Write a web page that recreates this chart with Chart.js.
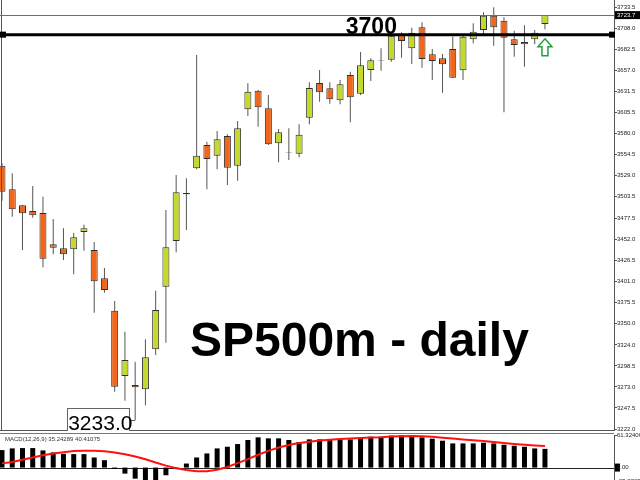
<!DOCTYPE html>
<html><head><meta charset="utf-8">
<script src="https://cdn.jsdelivr.net/npm/chart.js@4.4.0/dist/chart.umd.min.js"></script>
<style>
html,body{margin:0;padding:0;background:#fff;width:640px;height:480px;overflow:hidden;}
canvas{position:absolute;left:0;}
#main{top:0;}
#macd{top:431px;}
</style></head><body>
<canvas id="main" width="640" height="431"></canvas>
<canvas id="macd" width="640" height="50"></canvas>
<script>
// ---- data ----
const opens  = [3541.1,3512.5,3493.1,3486.2,3483.8,3445.9,3441.0,3439.8,3460.8,3439.0,3404.7,3365.4,3286.2,3275.3,3270.1,3318.6,3394.5,3449.9,3506.5,3538.0,3566.2,3553.3,3577.1,3541.1,3609.5,3632.0,3610.7,3568.3,3556.5,3555.7,3599.3,3641.4,3635.0,3620.4,3651.1,3628.4,3657.1,3668.0,3669.6,3699.9,3683.4,3708.9,3676.2,3671.3,3682.6,3656.8,3694.3,3705.6,3723.0,3716.9,3694.3,3688.3,3694.3,3712.9];
const highs  = [3544.4,3531.9,3493.5,3516.5,3503.6,3476.5,3465.3,3459.6,3469.6,3448.6,3417.1,3377.1,3339.9,3303.6,3330.7,3389.6,3487.4,3529.9,3525.9,3675.3,3570.2,3583.2,3579.2,3595.3,3641.0,3632.9,3626.8,3585.6,3586.5,3591.3,3642.2,3657.1,3642.2,3645.0,3655.1,3679.0,3671.3,3683.4,3699.6,3702.8,3708.4,3715.0,3682.6,3676.5,3697.5,3698.5,3713.7,3727.1,3733.1,3721.0,3704.8,3711.3,3705.6,3723.7];
const lows   = [3498.7,3479.3,3439.0,3478.1,3418.0,3433.7,3426.8,3409.5,3438.1,3363.0,3387.2,3267.2,3256.3,3233.0,3250.7,3311.7,3326.6,3436.2,3463.2,3536.8,3512.5,3536.8,3517.7,3523.0,3601.4,3588.4,3566.2,3545.3,3548.0,3551.3,3591.3,3618.7,3616.3,3615.6,3593.7,3626.8,3643.8,3656.3,3667.2,3672.0,3664.4,3659.9,3645.0,3629.6,3647.4,3645.0,3689.5,3700.4,3686.6,3605.9,3673.3,3661.1,3688.3,3706.5];
const closes = [3509.6,3488.3,3483.4,3481.0,3428.4,3441.7,3433.7,3454.3,3465.3,3401.0,3390.5,3273.3,3305.6,3272.5,3308.9,3366.2,3442.2,3508.9,3508.0,3553.3,3549.3,3573.1,3538.7,3586.5,3630.8,3611.9,3567.1,3581.6,3557.1,3578.7,3635.3,3630.1,3621.6,3639.8,3624.0,3662.8,3668.9,3668.6,3698.7,3692.3,3702.0,3670.5,3668.0,3664.0,3647.8,3697.5,3703.6,3723.0,3708.9,3696.3,3687.4,3691.1,3702.3,3723.7];
const priceTicks = [3733.5,3708.0,3682.5,3657.0,3631.5,3605.5,3580.0,3554.5,3529.0,3503.5,3477.5,3452.0,3426.5,3401.0,3375.5,3350.0,3324.0,3298.5,3273.0,3247.5,3222.0];
const macdHist = [32.9,36.1,36.7,36.7,32.3,28.5,25.9,25.3,25.3,19.0,13.9,-2.5,-11.4,-20.9,-25.0,-25.29,-14.5,-2.5,7.6,19.0,26.6,36.1,39.2,44.3,51.9,56.9,55.0,55.0,51.9,48.1,53.1,53.1,51.9,53.1,53.1,56.9,58.2,58.2,60.1,60.7,61.32,56.9,54.4,50.6,45.5,45.5,45.5,46.8,45.5,43.0,41.1,39.2,36.1,35.24];
const macdSignal = [7.9,10.5,14.7,18.9,23.1,26.3,28.9,31.0,31.5,31.5,30.5,28.4,25.2,21.0,15.8,9.5,3.7,-1.1,-4.7,-6.8,-6.8,-4.2,1.1,8.4,15.8,24.2,31.5,37.8,42.5,46.2,48.8,50.9,52.5,53.6,54.6,55.7,56.7,57.2,58.3,58.8,59.3,58.8,57.8,56.2,54.6,53.0,51.5,49.9,48.0,46.3,44.6,43.0,41.6,40.41];
const macdTicks = [61.32406, -25.2865];
const macdTickLabels = ['61.32406', '-25.2865'];
const levelPrice = 3700;
const levelText = '3700';
const lastPrice = 3723.7;
const lowIndex = 13;
const lowPrice = 3233.0;
const arrowIndex = 53;
const arrowPrice = 3695;
const titleText = 'SP500m - daily';
const macdTitle = 'MACD(12,26,9) 35.24289 40.41075';

// ---- styles ----
const GREEN = '#c4d82e', ORANGE = '#f2661c', EDGE = '#2e2e2e';
const FONT = 'Liberation Sans, Arial, sans-serif';
const X_MIN = -0.195, X_MAX = 59.74, AXIS_W = 26;

const idx = opens.map((_, i) => i);
const bodyData = idx.map(i => ({x: i, y: [opens[i], closes[i]]}));
const wickData = idx.map(i => ({x: i, y: [lows[i], highs[i]]}));
const bodyColors = idx.map(i => closes[i] >= opens[i] ? GREEN : ORANGE);

function xAxis() {
  return {type: 'linear', display: false, min: X_MIN, max: X_MAX, offset: false, bounds: 'data',
          grid: {offset: false}, ticks: {includeBounds: true}};
}
function yAxisCommon(extra) {
  return Object.assign({
    position: 'right', offset: false,
    afterFit: s => { s.width = AXIS_W; s.paddingTop = 0; s.paddingBottom = 0; },
    grid: {drawOnChartArea: false, drawTicks: true, tickLength: 3, color: '#555', lineWidth: 1},
    border: {display: true, color: '#555', width: 1},
  }, extra);
}

const mainPlugin = {
  id: 'mainDeco',
  afterDatasetsDraw(chart) {
    const {ctx, chartArea: a, scales: {x, y}} = chart;
    ctx.save();
    // frame lines
    ctx.strokeStyle = '#555'; ctx.lineWidth = 1;
    ctx.beginPath(); ctx.moveTo(1.5, a.top); ctx.lineTo(1.5, a.bottom); ctx.stroke();
    ctx.beginPath(); ctx.moveTo(a.left, a.bottom - 0.5); ctx.lineTo(a.right, a.bottom - 0.5); ctx.stroke();
    // current price line
    const py = Math.round(y.getPixelForValue(lastPrice)) + 0.5;
    ctx.strokeStyle = '#6464b0'; ctx.lineWidth = 1;
    ctx.beginPath(); ctx.moveTo(a.left, py); ctx.lineTo(a.right, py); ctx.stroke();
    // 3700 level line
    const ly = y.getPixelForValue(levelPrice);
    ctx.strokeStyle = '#000'; ctx.lineWidth = 3;
    ctx.beginPath(); ctx.moveTo(a.left, ly); ctx.lineTo(a.right, ly); ctx.stroke();
    ctx.fillStyle = '#000';
    ctx.fillRect(a.left, ly - 3, 6, 6);
    ctx.fillRect(a.right - 5, ly - 3, 6, 6);
    // level text
    ctx.font = 'bold 23px ' + FONT;
    ctx.textAlign = 'right'; ctx.textBaseline = 'alphabetic';
    ctx.fillText(levelText, x.getPixelForValue(38.55), ly - 1);
    // low label box
    const cx = x.getPixelForValue(lowIndex), lpy = y.getPixelForValue(lowPrice);
    ctx.fillStyle = '#fff'; ctx.strokeStyle = '#666'; ctx.lineWidth = 1;
    ctx.fillRect(cx - 68, lpy - 12, 62, 23);
    ctx.strokeRect(Math.round(cx - 68) + 0.5, Math.round(lpy - 12) + 0.5, 62, 23);
    ctx.beginPath(); ctx.moveTo(cx - 6, Math.round(lpy) + 0.5); ctx.lineTo(cx, Math.round(lpy) + 0.5); ctx.stroke();
    ctx.fillStyle = '#000';
    ctx.font = '21px ' + FONT; ctx.textAlign = 'left';
    ctx.fillText('3233.0', cx - 67, lpy + 10);
    // arrow
    const ax = x.getPixelForValue(arrowIndex), ay = y.getPixelForValue(arrowPrice);
    ctx.beginPath();
    ctx.moveTo(ax, ay);
    ctx.lineTo(ax + 7, ay + 8);
    ctx.lineTo(ax + 3, ay + 8);
    ctx.lineTo(ax + 3, ay + 17);
    ctx.lineTo(ax - 3, ay + 17);
    ctx.lineTo(ax - 3, ay + 8);
    ctx.lineTo(ax - 7, ay + 8);
    ctx.closePath();
    ctx.fillStyle = '#fff'; ctx.fill();
    ctx.strokeStyle = '#22a040'; ctx.lineWidth = 1.5; ctx.stroke();
    // title
    ctx.fillStyle = '#000';
    ctx.font = 'bold 48px ' + FONT; ctx.textAlign = 'left';
    ctx.fillText(titleText, 190, 356);
    ctx.restore();
  },
  afterDraw(chart) {
    const {ctx, chartArea: a, scales: {y}} = chart;
    const py = y.getPixelForValue(lastPrice);
    ctx.save();
    ctx.fillStyle = '#000';
    ctx.fillRect(a.right + 1, py - 4, 26, 8);
    ctx.fillStyle = '#fff';
    ctx.font = '6px ' + FONT; ctx.textAlign = 'left'; ctx.textBaseline = 'middle';
    ctx.fillText(lastPrice.toFixed(1), a.right + 3, py);
    ctx.restore();
  }
};

new Chart(document.getElementById('main'), {
  type: 'bar',
  data: {
    datasets: [
      {data: bodyData, backgroundColor: bodyColors, borderColor: EDGE, borderWidth: 1, borderSkipped: false,
       grouped: false, barThickness: 7, maxBarThickness: 7, inflateAmount: 0, order: 1},
      {data: wickData, backgroundColor: '#555', borderWidth: 0, grouped: false,
       barThickness: 1, maxBarThickness: 1, inflateAmount: 0, order: 2}
    ]
  },
  options: {
    responsive: false, animation: false, devicePixelRatio: 1,
    layout: {padding: 0},
    plugins: {legend: {display: false}, tooltip: {enabled: false}},
    scales: {
      x: xAxis(),
      y: yAxisCommon({
        min: 3219.6, max: 3742.0,
        afterBuildTicks: s => { s.ticks = priceTicks.map(v => ({value: v})); },
        ticks: {callback: v => Number(v).toFixed(1), font: {size: 6, family: FONT}, color: '#222', padding: 0, autoSkip: false}
      })
    }
  },
  plugins: [mainPlugin]
});

const macdPlugin = {
  id: 'macdDeco',
  beforeDatasetsDraw(chart) {
    const {ctx, chartArea: a, scales: {y}} = chart;
    const zy = Math.round(y.getPixelForValue(0)) + 0.5;
    ctx.save();
    ctx.strokeStyle = '#222'; ctx.lineWidth = 1;
    ctx.beginPath(); ctx.moveTo(a.left, zy); ctx.lineTo(a.right, zy); ctx.stroke();
    ctx.strokeStyle = '#777';
    ctx.beginPath(); ctx.moveTo(0, 2.5); ctx.lineTo(a.right, 2.5); ctx.stroke();
    ctx.restore();
  },
  afterDraw(chart) {
    const {ctx, chartArea: a, scales: {y}} = chart;
    const zy = y.getPixelForValue(0);
    ctx.save();
    ctx.fillStyle = '#333';
    ctx.font = '6px ' + FONT; ctx.textAlign = 'left'; ctx.textBaseline = 'middle';
    ctx.fillText(macdTitle, 5, 8);
    ctx.fillStyle = '#000';
    ctx.fillRect(a.right + 1, zy - 4, 5, 8);
    ctx.fillStyle = '#222';
    ctx.fillText('0.00', a.right + 3, zy);
    ctx.restore();
  }
};

new Chart(document.getElementById('macd'), {
  type: 'bar',
  data: {
    datasets: [
      {type: 'line', data: idx.map(i => ({x: i, y: macdSignal[i]})), borderColor: '#ff1010', borderWidth: 2,
       pointRadius: 0, tension: 0, order: 0},
      {data: idx.map(i => ({x: i, y: macdHist[i]})), backgroundColor: '#000', borderWidth: 0, grouped: false,
       barThickness: 5, maxBarThickness: 5, inflateAmount: 0, order: 1}
    ]
  },
  options: {
    responsive: false, animation: false, devicePixelRatio: 1,
    layout: {padding: {top: 4, left: 0, right: 0, bottom: 0}},
    plugins: {legend: {display: false}, tooltip: {enabled: false}},
    scales: {
      x: xAxis(),
      y: yAxisCommon({
        min: -25.2865, max: 61.32406,
        afterBuildTicks: s => { s.ticks = macdTicks.map(v => ({value: v})); },
        ticks: {callback: (v, i) => macdTickLabels[i], font: {size: 6, family: FONT}, color: '#222', padding: 0, autoSkip: false}
      })
    }
  },
  plugins: [macdPlugin]
});
</script>
</body></html>
